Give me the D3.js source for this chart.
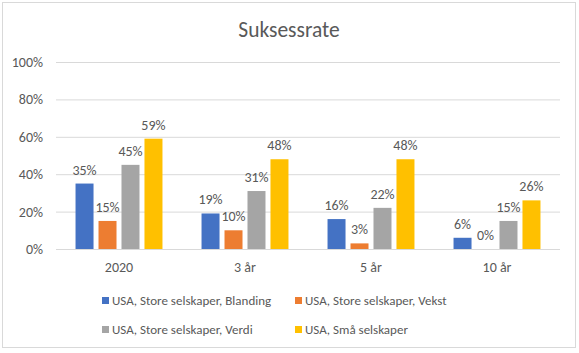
<!DOCTYPE html>
<html lang="no">
<head>
<meta charset="UTF-8">
<title>Suksessrate</title>
<script src="https://d3js.org/d3.v7.min.js"></script>
<style>
  body { margin: 0; background: #fff; }
  text { font-family: Calibri, Carlito, Lato, sans-serif; fill: #595959; }
</style>
</head>
<body>
<svg></svg>
<script>
const categories = ["2020", "3 år", "5 år", "10 år"];
const series = [
  "USA, Store selskaper, Blanding",
  "USA, Store selskaper, Vekst",
  "USA, Store selskaper, Verdi",
  "USA, Små selskaper"
];
const blanding = [35, 19, 16, 6];
const vekst = [15, 10, 3, 0];
const verdi = [45, 31, 22, 15];
const smaa = [59, 48, 48, 26];
const yTicks = [0, 20, 40, 60, 80, 100];
const colors = ["#4472C4", "#ED7D31", "#A5A5A5", "#FFC000"];

const w = 579, h = 353;
const values = [blanding, vekst, verdi, smaa];
const font = "Calibri, Carlito, Lato, sans-serif";

const svg = d3.select("svg").attr("width", w).attr("height", h);

// chart frame
svg.append("rect")
  .attr("x", 2.5).attr("y", 2.5)
  .attr("width", 573).attr("height", 345)
  .attr("fill", "#fff").attr("stroke", "#d9d9d9");

svg.append("text")
  .attr("x", 289).attr("y", 37)
  .attr("text-anchor", "middle")
  .attr("font-size", 21.5)
  .text("Suksessrate");

const x = d3.scaleBand().domain(categories).range([56, 560]);
const x1 = d3.scaleBand().domain(series).range([0, x.bandwidth()])
  .paddingInner(0.217).paddingOuter(0.85);
const y = d3.scaleLinear().domain([0, 100]).range([249, 62]);

// gridlines + y labels
const yAxis = svg.append("g")
  .attr("transform", "translate(56,0)")
  .call(d3.axisLeft(y).tickValues(yTicks).tickSize(-504).tickPadding(13)
    .tickFormat(d => d + "%"));
yAxis.select(".domain").remove();
yAxis.selectAll("line").attr("stroke", "#d9d9d9");
yAxis.selectAll("text").attr("font-size", 14).style("fill", "#595959")
  .style("font-family", font);

// category labels
const xAxis = svg.append("g")
  .attr("transform", "translate(0,249)")
  .call(d3.axisBottom(x).tickSize(0).tickPadding(13));
xAxis.select(".domain").remove();
xAxis.selectAll("text").attr("font-size", 14).style("fill", "#595959")
  .style("font-family", font);

// bars
const groups = svg.selectAll("g.cat")
  .data(categories)
  .join("g")
  .attr("class", "cat")
  .attr("transform", c => `translate(${x(c)},0)`);

groups.selectAll("rect")
  .data((c, ci) => series.map((s, si) => ({ s, si, v: values[si][ci] })))
  .join("rect")
  .attr("x", d => x1(d.s))
  .attr("width", x1.bandwidth())
  .attr("y", d => y(d.v))
  .attr("height", d => y(0) - y(d.v))
  .attr("fill", d => colors[d.si]);

groups.selectAll("text.lbl")
  .data((c, ci) => series.map((s, si) => ({ s, si, v: values[si][ci] })))
  .join("text")
  .attr("class", "lbl")
  .attr("x", d => x1(d.s) + x1.bandwidth() / 2)
  .attr("y", d => y(d.v) - 9)
  .attr("text-anchor", "middle")
  .attr("font-size", 14)
  .text(d => d.v + "%");

// legend
const legPos = [[102, 300], [295, 300], [102, 329], [295, 329]];
const leg = svg.selectAll("g.leg")
  .data(series)
  .join("g")
  .attr("class", "leg")
  .attr("transform", (d, i) => `translate(${legPos[i][0]},${legPos[i][1]})`);
leg.append("rect")
  .attr("x", 0).attr("y", -3)
  .attr("width", 7).attr("height", 7)
  .attr("fill", (d, i) => colors[i]);
leg.append("text")
  .attr("x", 10).attr("y", 4.5)
  .attr("font-size", 13)
  .text(d => d);
</script>
</body>
</html>
